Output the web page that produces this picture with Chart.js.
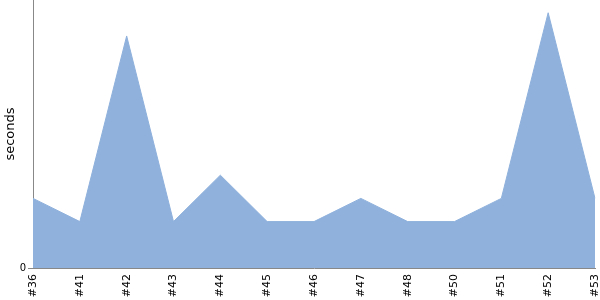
<!DOCTYPE html>
<html>
<head>
<meta charset="utf-8">
<script src="https://cdn.jsdelivr.net/npm/chart.js@4/dist/chart.umd.min.js"></script>
<style>
html,body{margin:0;padding:0;background:#fff;}
#wrap{width:600px;height:300px;position:relative;}
</style>
</head>
<body>
<div id="wrap"><canvas id="c"></canvas></div>
<script>
const categories = ["#36","#41","#42","#43","#44","#45","#46","#47","#48","#50","#51","#52","#53"];
const seconds = [3,2,10,2,4,2,2,3,2,2,3,11,3];
const yTickValues = [0];
const yMax = 11.55;

Chart.defaults.font.family = "'DejaVu Sans', sans-serif";
Chart.defaults.color = "#000";

new Chart(document.getElementById('c'), {
  type: 'line',
  data: {
    labels: categories,
    datasets: [{
      data: seconds,
      fill: 'origin',
      backgroundColor: '#8fb1dc',
      borderColor: '#8fb1dc',
      borderWidth: 1,
      pointRadius: 0,
      tension: 0
    }]
  },
  options: {
    responsive: true,
    maintainAspectRatio: false,
    animation: false,
    layout: { padding: 0 },
    plugins: { legend: { display: false }, tooltip: { enabled: false } },
    scales: {
      x: {
        offset: false,
        grid: { display: false },
        border: { display: true, color: '#888' },
        ticks: { minRotation: 90, maxRotation: 90, autoSkip: false, font: { size: 11 }, padding: -2 },
        afterFit: (axis) => { axis.height = 32; axis.paddingRight = 5; axis.paddingLeft = 0; }
      },
      y: {
        min: 0,
        max: yMax,
        afterBuildTicks: (axis) => { axis.ticks = yTickValues.map(v => ({ value: v })); },
        grid: { display: true, drawOnChartArea: false, drawTicks: true, tickLength: 5, color: '#888' },
        border: { display: true, color: '#888' },
        ticks: { font: { size: 10 }, padding: 2 },
        title: { display: true, text: 'seconds', font: { size: 13 }, padding: { top: 3, bottom: 1 } },
        afterFit: (axis) => { axis.width = 33; axis.paddingTop = 0; axis.paddingBottom = 0; }
      }
    }
  }
});
</script>
</body>
</html>
